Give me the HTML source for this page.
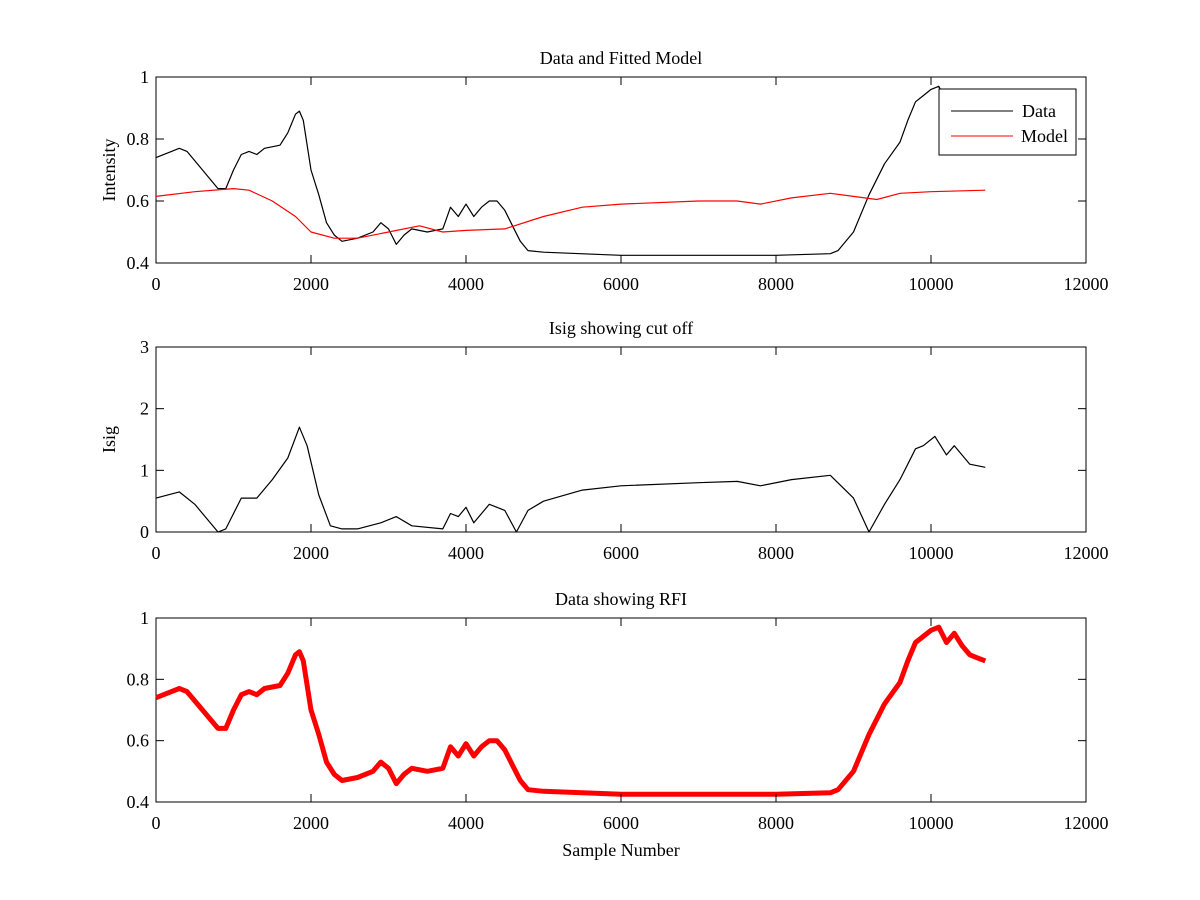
<!DOCTYPE html>
<html><head><meta charset="utf-8"><style>
body{margin:0;background:#fff}
svg{display:block;font-family:"Liberation Serif",serif}
text{font-size:18px;fill:#000}
</style></head><body>
<svg id="chart" width="1200" height="900" viewBox="0 0 1200 900"></svg>
<script>
const dataX=[0,200,300,400,600,800,900,1000,1100,1200,1300,1400,1600,1700,1800,1850,1900,2000,2100,2200,2300,2400,2600,2800,2900,3000,3100,3200,3300,3500,3700,3800,3900,4000,4100,4200,4300,4400,4500,4600,4700,4800,5000,6000,7000,8000,8700,8800,9000,9200,9400,9600,9700,9800,9900,10000,10100,10200,10300,10400,10500,10600,10700];
const dataY=[0.74,0.76,0.77,0.76,0.70,0.64,0.64,0.70,0.75,0.76,0.75,0.77,0.78,0.82,0.88,0.89,0.86,0.70,0.62,0.53,0.49,0.47,0.48,0.50,0.53,0.51,0.46,0.49,0.51,0.50,0.51,0.58,0.55,0.59,0.55,0.58,0.60,0.60,0.57,0.52,0.47,0.44,0.435,0.425,0.425,0.425,0.43,0.44,0.50,0.62,0.72,0.79,0.86,0.92,0.94,0.96,0.97,0.92,0.95,0.91,0.88,0.87,0.86];
const modelX=[0,500,1000,1200,1500,1800,2000,2300,2600,3000,3400,3700,4000,4500,5000,5500,6000,7000,7500,7800,8200,8700,9000,9300,9600,10000,10700];
const modelY=[0.615,0.63,0.64,0.635,0.60,0.55,0.50,0.48,0.48,0.50,0.52,0.50,0.505,0.51,0.55,0.58,0.59,0.60,0.60,0.59,0.61,0.625,0.615,0.605,0.625,0.63,0.635];
const isigX=[0,300,500,800,900,1100,1300,1500,1700,1850,1950,2100,2250,2400,2600,2900,3100,3300,3700,3800,3900,4000,4100,4300,4500,4650,4800,5000,5500,6000,7000,7500,7800,8200,8700,9000,9200,9400,9600,9800,9900,10050,10200,10300,10500,10700];
const isigY=[0.55,0.65,0.45,0.0,0.05,0.55,0.55,0.85,1.2,1.7,1.4,0.6,0.1,0.05,0.05,0.15,0.25,0.1,0.05,0.3,0.25,0.4,0.15,0.45,0.35,0.0,0.35,0.5,0.68,0.75,0.80,0.82,0.75,0.85,0.92,0.55,0.0,0.45,0.85,1.35,1.4,1.55,1.25,1.4,1.1,1.05];
const xTicks=[0,2000,4000,6000,8000,10000,12000];
const yTicks1=[0.4,0.6,0.8,1], yTicks2=[0,1,2,3], yTicks3=[0.4,0.6,0.8,1];

const svg=document.getElementById('chart');
const NS='http://www.w3.org/2000/svg';
function mk(t,a,txt){const e=document.createElementNS(NS,t);for(const k in a)e.setAttribute(k,a[k]);if(txt!==undefined)e.textContent=txt;svg.appendChild(e);return e;}
const L=156,R=1086;
const sx=v=>L+v/12000*(R-L);
function panel(name,top,bot,ymin,ymax,yt,title,ylabel,series){
  const sy=v=>bot-(v-ymin)/(ymax-ymin)*(bot-top);
  const box=mk('rect',{x:L,y:top,width:R-L,height:bot-top,fill:'#fff',stroke:'#000','stroke-width':1});
  
  
  series.forEach(s=>{
    const d=s.x.map((x,i)=>(i?'L':'M')+sx(x).toFixed(1)+','+sy(s.y[i]).toFixed(1)).join('');
    const p=mk('path',{d:d,fill:'none',stroke:s.c,'stroke-width':s.w,'stroke-linejoin':'round'});
    
    
  });
  xTicks.forEach(t=>{
    const x=sx(t);
    mk('line',{x1:x,y1:bot,x2:x,y2:bot-8,stroke:'#000'});
    mk('line',{x1:x,y1:top,x2:x,y2:top+8,stroke:'#000'});
    const tx=mk('text',{x:x,y:bot+27,'text-anchor':'middle'},String(t));
    
    
  });
  yt.forEach(t=>{
    const y=sy(t);
    mk('line',{x1:L,y1:y,x2:L+8,y2:y,stroke:'#000'});
    mk('line',{x1:R,y1:y,x2:R-8,y2:y,stroke:'#000'});
    const tx=mk('text',{x:L-7,y:y+6,'text-anchor':'end'},String(t));
    
    
  });
  const tt=mk('text',{x:(L+R)/2,y:top-13,'text-anchor':'middle'},title);
  
  
  const yl=mk('text',{x:0,y:0,'text-anchor':'middle',transform:'translate(115,'+((top+bot)/2)+') rotate(-90)'},ylabel);
  
  
}
panel('top-panel',77,263,0.4,1,yTicks1,'Data and Fitted Model','Intensity',[
  {x:dataX,y:dataY,c:'#000',w:1.2,n:'data-line'},{x:modelX,y:modelY,c:'#f00',w:1.2,n:'model-line'}]);
panel('middle-panel',347,532,0,3,yTicks2,'Isig showing cut off','Isig',[
  {x:isigX,y:isigY,c:'#000',w:1.2,n:'isig-line'}]);
panel('bottom-panel',618,802,0.4,1,yTicks3,'Data showing RFI','',[
  {x:dataX,y:dataY,c:'#f00',w:5,n:'rfi-data-line'}]);
const xl=mk('text',{x:621,y:856,'text-anchor':'middle'},'Sample Number');


const lg=mk('rect',{x:939,y:89,width:137,height:66,fill:'#fff',stroke:'#000'});


mk('line',{x1:951,y1:111,x2:1013,y2:111,stroke:'#000'});
const l1=mk('text',{x:1022,y:117},'Data');


mk('line',{x1:951,y1:136,x2:1013,y2:136,stroke:'#f00'});
const l2=mk('text',{x:1021,y:142},'Model');


</script>
</body></html>
